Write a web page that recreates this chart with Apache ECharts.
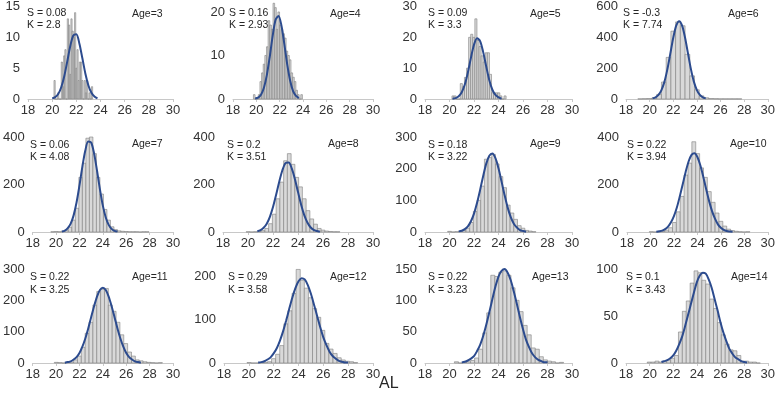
<!DOCTYPE html>
<html>
<head>
<meta charset="utf-8">
<script src="https://cdn.jsdelivr.net/npm/echarts@6/dist/echarts.min.js"></script>
<style>html,body{margin:0;padding:0;background:#fff}#c{width:778px;height:406px}</style>
</head>
<body>
<div id="c"></div>
<script>
const ages = [3, 4, 5, 6, 7, 8, 9, 10, 11, 12, 13, 14];
const skewTxt = ['0.08', '0.16', '0.09', '-0.3', '0.06', '0.2', '0.18', '0.22', '0.22', '0.29', '0.22', '0.1'];
const kurtTxt = ['2.8', '2.93', '3.3', '7.74', '4.08', '3.51', '3.22', '3.94', '3.25', '3.58', '3.23', '3.43'];
const xMin = 18, xMax = 30, xStep = 2;
const yMax = [15, 21.6, 30, 600, 400, 400, 300, 400, 300, 216, 150, 100];
const yStep = [5, 10, 10, 200, 200, 200, 100, 200, 100, 100, 50, 50];
const binStart = [20.15, 19.75, 20.2, 19.0, 19.55, 19.85, 19.85, 19.9, 19.85, 19.85, 20.4, 19.8];
const binWidth = [0.1, 0.14, 0.17, 0.4, 0.3, 0.3, 0.3, 0.33, 0.33, 0.33, 0.33, 0.33];

const counts3 = [3,0,0,1,0,0,6,2,7,8,0,13,12,4,13,11,10,14,5,8,3,6,6,3,0,3,1,3,0,1,0,2];
const counts4 = [1,0,0,1,4,6,8,10,12,18,17,16,22,21,16,20,17,16,15,14,11,10,9,6,5,4,2,1,0,1];
const counts5 = [1,1,0,0,5,4,7,10,20,21,20,26,19,17,14,12,15,15,8,2,2,2,2,1,0,1];
const counts6 = [1,2,3,8,30,110,270,440,500,475,290,150,60,20,8,3,2,1,1,1,1,1];
const counts7 = [1,2,1,3,8,20,50,100,230,290,395,400,330,230,160,95,50,22,10,5,3,2,1,1,1,0,1,1];
const counts8 = [1,0,1,2,6,15,35,75,140,210,300,330,285,230,190,140,90,55,33,15,8,4,2,1,1];
const counts9 = [2,0,1,2,5,12,30,65,100,145,230,235,245,215,175,140,85,60,40,20,12,5,3,1];
const counts10 = [1,0,1,2,8,18,40,85,150,240,290,380,330,270,230,170,125,80,45,25,12,6,3,1,0,1];
const counts11 = [2,1,0,2,3,10,22,50,95,130,185,228,235,238,185,165,130,90,62,35,22,10,7,4,2,1,0,1];
const counts12 = [1,0,0,1,1,3,10,20,40,90,120,160,215,190,172,150,125,105,75,45,32,22,12,7,4,3,1];
const counts13 = [2,0,1,2,4,8,22,48,80,140,138,145,147,140,120,100,82,60,45,24,22,10,5,3,2,0,1];
const counts14 = [1,1,2,1,2,3,5,8,33,55,66,85,98,96,88,84,68,58,43,30,20,14,13,8,2,2,1,1,0];

const curve3 = [[20.0,0.1],[20.25,0.3],[20.5,0.8],[20.75,1.9],[21.0,3.7],[21.25,6.1],[21.5,8.6],[21.75,10.3],[22.0,10.5],[22.25,9.0],[22.5,6.6],[22.75,4.1],[23.0,2.2],[23.25,1.0],[23.5,0.4],[23.75,0.1]];
const curve4 = [[19.9,0.1],[20.15,0.3],[20.4,1.0],[20.65,2.6],[20.9,5.5],[21.15,9.7],[21.4,14.5],[21.65,18.2],[21.9,19.1],[22.15,16.9],[22.4,12.6],[22.65,7.9],[22.9,4.2],[23.15,1.8],[23.4,0.7],[23.65,0.2]];
const curve5 = [[20.25,0.1],[20.5,0.3],[20.75,0.9],[21.0,2.2],[21.25,4.7],[21.5,8.6],[21.75,13.4],[22.0,17.6],[22.25,19.7],[22.5,18.8],[22.75,15.2],[23.0,10.5],[23.25,6.1],[23.5,3.0],[23.75,1.3],[24.0,0.5],[24.25,0.1]];
const curve6 = [[20.25,4],[20.5,11],[20.75,26],[21.0,58],[21.25,111],[21.5,192],[21.75,294],[22.0,397],[22.25,476],[22.5,505],[22.75,476],[23.0,397],[23.25,294],[23.5,192],[23.75,111],[24.0,58],[24.25,26],[24.5,11],[24.75,4]];
const curve7 = [[20.5,2],[20.75,6],[21.0,16],[21.25,35],[21.5,70],[21.75,124],[22.0,196],[22.25,275],[22.5,343],[22.75,381],[23.0,377],[23.25,331],[23.5,259],[23.75,180],[24.0,111],[24.25,61],[24.5,30],[24.75,13],[25.0,5],[25.25,2]];
const curve8 = [[20.75,3],[21.0,8],[21.25,18],[21.5,35],[21.75,64],[22.0,105],[22.25,157],[22.5,212],[22.75,260],[23.0,290],[23.25,293],[23.5,268],[23.75,223],[24.0,168],[24.25,115],[24.5,71],[24.75,40],[25.0,20],[25.25,9],[25.5,4],[25.75,1]];
const curve9 = [[20.75,2],[21.0,4],[21.25,9],[21.5,18],[21.75,34],[22.0,58],[22.25,92],[22.5,133],[22.75,177],[23.0,216],[23.25,241],[23.5,248],[23.75,233],[24.0,201],[24.25,159],[24.5,116],[24.75,77],[25.0,47],[25.25,26],[25.5,14],[25.75,6],[26.0,3],[26.25,1]];
const curve10 = [[20.5,1],[20.75,3],[21.0,6],[21.25,12],[21.5,23],[21.75,41],[22.0,67],[22.25,103],[22.5,150],[22.75,201],[23.0,253],[23.25,297],[23.5,325],[23.75,332],[24.0,316],[24.25,281],[24.5,233],[24.75,180],[25.0,130],[25.25,88],[25.5,56],[25.75,32],[26.0,18],[26.25,9],[26.5,4],[26.75,2],[27.0,1]];
const curve11 = [[20.75,1],[21.0,3],[21.25,5],[21.5,11],[21.75,19],[22.0,32],[22.25,52],[22.5,78],[22.75,110],[23.0,146],[23.25,181],[23.5,212],[23.75,233],[24.0,240],[24.25,233],[24.5,212],[24.75,181],[25.0,146],[25.25,110],[25.5,78],[25.75,52],[26.0,32],[26.25,19],[26.5,11],[26.75,5],[27.0,3],[27.25,1]];
const curve12 = [[20.75,1],[21.0,2],[21.25,4],[21.5,8],[21.75,13],[22.0,22],[22.25,34],[22.5,51],[22.75,72],[23.0,97],[23.25,124],[23.5,150],[23.75,172],[24.0,188],[24.25,195],[24.5,192],[24.75,179],[25.0,159],[25.25,134],[25.5,108],[25.75,82],[26.0,59],[26.25,41],[26.5,26],[26.75,16],[27.0,10],[27.25,5],[27.5,3],[27.75,1],[28.0,1]];
const curve13 = [[21.0,1],[21.25,2],[21.5,4],[21.75,7],[22.0,11],[22.25,19],[22.5,29],[22.75,43],[23.0,61],[23.25,81],[23.5,102],[23.75,122],[24.0,138],[24.25,147],[24.5,150],[24.75,144],[25.0,132],[25.25,114],[25.5,94],[25.75,73],[26.0,54],[26.25,37],[26.5,25],[26.75,15],[27.0,9],[27.25,5],[27.5,3],[27.75,1],[28.0,1]];
const curve14 = [[21.0,1],[21.25,2],[21.5,3],[21.75,5],[22.0,8],[22.25,13],[22.5,20],[22.75,28],[23.0,39],[23.25,51],[23.5,63],[23.75,75],[24.0,86],[24.25,93],[24.5,96],[24.75,95],[25.0,89],[25.25,80],[25.5,68],[25.75,56],[26.0,43],[26.25,32],[26.5,23],[26.75,15],[27.0,10],[27.25,6],[27.5,4],[27.75,2],[28.0,1],[28.25,0.5]];

const allCounts = [counts3, counts4, counts5, counts6, counts7, counts8, counts9, counts10, counts11, counts12, counts13, counts14];
const allCurves = [curve3, curve4, curve5, curve6, curve7, curve8, curve9, curve10, curve11, curve12, curve13, curve14];

// layout (pixels): [left, top, width, height] of each plot area
const boxes = [
  [28, 5, 145, 94], [233, 5, 140, 94], [425, 5, 147, 94], [626, 5, 145, 94],
  [27, 137, 146, 95], [223, 137, 150, 95], [425, 137, 147, 95], [627, 137, 144, 95],
  [25, 269, 148, 94], [224, 269, 149, 94], [425, 269, 147, 94], [626, 269, 145, 94]
];
const textPos = [
  [27, 132], [229, 330], [428, 530], [623, 728],
  [30, 132], [227, 328], [428, 530], [627, 730],
  [30, 132], [228, 330], [428, 532], [626, 731]
];
const rowY = [[14, 26, 15], [146, 158, 145], [278, 291, 278]];

const FONT = '"Liberation Sans", Arial, sans-serif';
const chart = echarts.init(document.getElementById('c'), null, { renderer: 'canvas' });

const grid = [], xAxis = [], yAxis = [], series = [], graphic = [];
boxes.forEach((b, i) => {
  grid.push({ left: b[0], top: b[1], width: b[2], height: b[3], containLabel: false });
  xAxis.push({
    type: 'value', gridIndex: i, min: xMin, max: xMax, interval: xStep,
    axisLine: { show: true, onZero: false, lineStyle: { color: '#c8c8c8', width: 1 } },
    axisTick: { show: true, length: 3, lineStyle: { color: '#c8c8c8' } },
    splitLine: { show: false },
    axisLabel: { color: '#333333', fontSize: 13, fontFamily: FONT, margin: 5 }
  });
  const mx = yMax[i], st = yStep[i];
  yAxis.push({
    type: 'value', gridIndex: i, min: 0, max: mx, interval: st,
    axisLine: { show: false }, axisTick: { show: false }, splitLine: { show: false },
    axisLabel: { color: '#333333', fontSize: 13, fontFamily: FONT, margin: 8,
      showMaxLabel: Math.abs(mx / st - Math.round(mx / st)) < 1e-9 }
  });
  const bins = allCounts[i].map((c, k) => {
    const x0 = binStart[i] + k * binWidth[i];
    return [x0, x0 + binWidth[i], c];
  });
  series.push({
    type: 'custom', xAxisIndex: i, yAxisIndex: i, data: bins,
    encode: { x: [0, 1], y: 2 },
    renderItem: function (params, api) {
      const p0 = api.coord([api.value(0), api.value(2)]);
      const p1 = api.coord([api.value(1), 0]);
      return {
        type: 'rect',
        shape: { x: p0[0], y: p0[1], width: p1[0] - p0[0], height: p1[1] - p0[1] },
        style: { fill: '#d9d9d9', stroke: '#808080', lineWidth: 0.6 }
      };
    },
    silent: true, z: 2
  });
  series.push({
    type: 'line', xAxisIndex: i, yAxisIndex: i, data: allCurves[i],
    smooth: 0.3, showSymbol: false, symbol: 'none',
    lineStyle: { color: '#2c4b8e', width: 2 }, silent: true, z: 3
  });
  const r = rowY[Math.floor(i / 4)];
  const tp = textPos[i];
  graphic.push({ type: 'text', left: tp[0], top: r[0] - 6, style: { text: 'S = ' + skewTxt[i], fill: '#262626', font: '10.5px ' + FONT } });
  graphic.push({ type: 'text', left: tp[0], top: r[1] - 6, style: { text: 'K = ' + kurtTxt[i], fill: '#262626', font: '10.5px ' + FONT } });
  graphic.push({ type: 'text', left: tp[1], top: r[2] - 6, style: { text: 'Age=' + ages[i], fill: '#262626', font: '10.5px ' + FONT } });
});
graphic.push({ type: 'text', left: 379, top: 376, style: { text: 'AL', fill: '#262626', font: '16px ' + FONT } });

chart.setOption({
  animation: false,
  backgroundColor: '#ffffff',
  grid: grid, xAxis: xAxis, yAxis: yAxis, series: series, graphic: graphic
});
</script>
</body>
</html>
